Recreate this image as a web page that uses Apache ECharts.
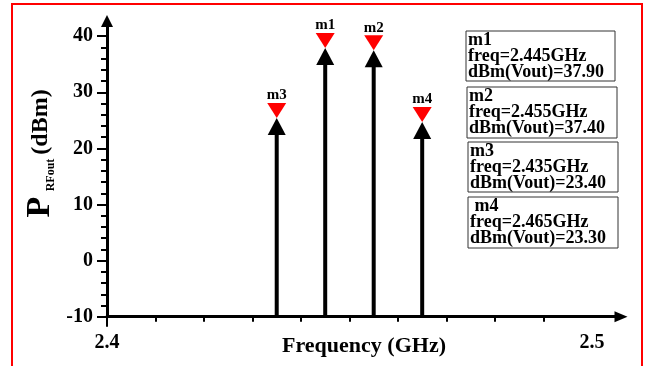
<!DOCTYPE html>
<html>
<head>
<meta charset="utf-8">
<script src="https://cdn.jsdelivr.net/npm/echarts@6/dist/echarts.min.js"></script>
<style>html,body{margin:0;padding:0;background:#fff}#chart{width:647px;height:366px}</style>
</head>
<body>
<div id="chart"></div>
<script>
// ---- data ----
const markerNames = ['m1', 'm2', 'm3', 'm4'];
const markerFreqs = [2.445, 2.455, 2.435, 2.465];      // GHz
const markerLevels = [37.9, 37.5, 25.4, 24.7];         // dBm, as drawn
const boxTitles = ['m1', 'm2', 'm3', ' m4'];
const boxFreqText = ['2.445', '2.455', '2.435', '2.465'];
const boxDbmText = ['37.90', '37.40', '23.40', '23.30'];
const yTickLabels = [-10, 0, 10, 20, 30, 40];
const yMinorTicks = [-8, -6, -4, -2, 2, 4, 6, 8, 12, 14, 16, 18, 22, 24, 26, 28, 32, 34, 36, 38];
const xTickLabels = [2.4, 2.5];
const xMajorTicks = [2.4];
const xMinorTicks = [2.41, 2.42, 2.43, 2.44, 2.45, 2.46, 2.47, 2.48, 2.49];

const FONT = "'Liberation Serif', 'Times New Roman', serif";
const Y_MIN = -10, Y_MAX = 42.7, X_MIN = 2.4, X_MAX = 2.506;

const chart = echarts.init(document.getElementById('chart'), null, {renderer: 'canvas'});

const seriesData = markerFreqs.map((f, i) => [f, markerLevels[i], markerNames[i]]);

const boxLayout = [
  {x: 466, y: 31, w: 149, h: 50},
  {x: 467, y: 87, w: 150, h: 51},
  {x: 468, y: 142, w: 150, h: 50},
  {x: 468, y: 197, w: 150, h: 51}
];

const boxGraphics = boxLayout.map((b, i) => ({
  type: 'group',
  x: b.x, y: b.y,
  children: [
    {type: 'rect', shape: {x: 0, y: 0, width: b.w, height: b.h},
     style: {fill: '#fff', stroke: '#333', lineWidth: 1}},
    {type: 'text', x: 2, y: 1,
     style: {text: boxTitles[i] + '\nfreq=' + boxFreqText[i] + 'GHz\ndBm(Vout)=' + boxDbmText[i],
             font: 'bold 18px ' + FONT, lineHeight: 16, fill: '#000',
             align: 'left', verticalAlign: 'top'}}
  ]
}));

const option = {
  animation: false,
  backgroundColor: '#fff',
  grid: {left: 107, right: 26, top: 21, bottom: 49.3, containLabel: false, outerBoundsMode: 'none'},
  xAxis: [
    {
      type: 'value', min: X_MIN, max: X_MAX, position: 'bottom',
      splitLine: {show: false},
      axisLine: {show: true, onZero: false, symbol: ['none', 'triangle'], symbolSize: [11, 13],
                 lineStyle: {color: '#000', width: 3}},
      axisTick: {show: true, customValues: xMajorTicks, length: 10, inside: false,
                 lineStyle: {color: '#000', width: 2}},
      axisLabel: {show: true, customValues: xTickLabels, margin: 16,
                  formatter: v => v.toFixed(1),
                  fontFamily: FONT, fontWeight: 'bold', fontSize: 20, color: '#000'},
      name: 'Frequency (GHz)', nameLocation: 'middle', nameGap: 19, nameMoveOverlap: false,
      nameTextStyle: {fontFamily: FONT, fontWeight: 'bold', fontSize: 22, color: '#000'}
    },
    {
      type: 'value', min: X_MIN, max: X_MAX, position: 'bottom', offset: 0,
      splitLine: {show: false},
      axisLine: {show: false, onZero: false},
      axisTick: {show: true, customValues: xMinorTicks, length: 5, inside: false,
                 lineStyle: {color: '#000', width: 2}},
      axisLabel: {show: false}
    }
  ],
  yAxis: [
    {
      type: 'value', min: Y_MIN, max: Y_MAX, position: 'left',
      splitLine: {show: false},
      axisLine: {show: true, onZero: false, symbol: ['none', 'triangle'], symbolSize: [12, 12],
                 lineStyle: {color: '#000', width: 3}},
      axisTick: {show: true, customValues: yTickLabels, length: 10,
                 lineStyle: {color: '#000', width: 2}},
      axisLabel: {show: true, customValues: yTickLabels, margin: 14,
                  fontFamily: FONT, fontWeight: 'bold', fontSize: 20, color: '#000'}
    },
    {
      type: 'value', min: Y_MIN, max: Y_MAX, position: 'left', offset: 0,
      splitLine: {show: false},
      axisLine: {show: false, onZero: false},
      axisTick: {show: true, customValues: yMinorTicks, length: 6,
                 lineStyle: {color: '#000', width: 2}},
      axisLabel: {show: false}
    }
  ],
  series: [{
    type: 'custom',
    xAxisIndex: 0, yAxisIndex: 0,
    data: seriesData,
    clip: false,
    renderItem: function (params, api) {
      const x = api.value(0), y = api.value(1);
      const top = api.coord([x, y]);
      const base = api.coord([x, Y_MIN]);
      const name = markerNames[params.dataIndex];
      return {
        type: 'group',
        children: [
          {type: 'line', shape: {x1: top[0], y1: base[1], x2: top[0], y2: top[1] + 12},
           style: {stroke: '#000', lineWidth: 4}},
          {type: 'polygon', shape: {points: [[top[0], top[1]], [top[0] - 9, top[1] + 17], [top[0] + 9, top[1] + 17]]},
           style: {fill: '#000'}},
          {type: 'polygon', shape: {points: [[top[0], top[1]], [top[0] - 9.5, top[1] - 15], [top[0] + 9.5, top[1] - 15]]},
           style: {fill: '#ff0000'}},
          {type: 'text', x: top[0], y: top[1] - 15,
           style: {text: name, font: 'bold 15px ' + FONT, fill: '#000',
                   align: 'center', verticalAlign: 'bottom'}}
        ]
      };
    }
  }],
  graphic: [
    {type: 'rect', shape: {x: 12, y: 4, width: 630, height: 420},
     style: {fill: 'none', stroke: '#ff0000', lineWidth: 2}, silent: true},
    {type: 'text', x: 40, y: 207, rotation: Math.PI / 2,
     style: {text: 'P', font: 'bold 34px ' + FONT, fill: '#000', align: 'center', verticalAlign: 'middle'}},
    {type: 'text', x: 51, y: 175, rotation: Math.PI / 2,
     style: {text: 'RFout', font: 'bold 12px ' + FONT, fill: '#000', align: 'center', verticalAlign: 'middle'}},
    {type: 'text', x: 41, y: 122, rotation: Math.PI / 2,
     style: {text: '(dBm)', font: 'bold 24px ' + FONT, fill: '#000', align: 'center', verticalAlign: 'middle'}}
  ].concat(boxGraphics)
};

chart.setOption(option);
</script>
</body>
</html>
